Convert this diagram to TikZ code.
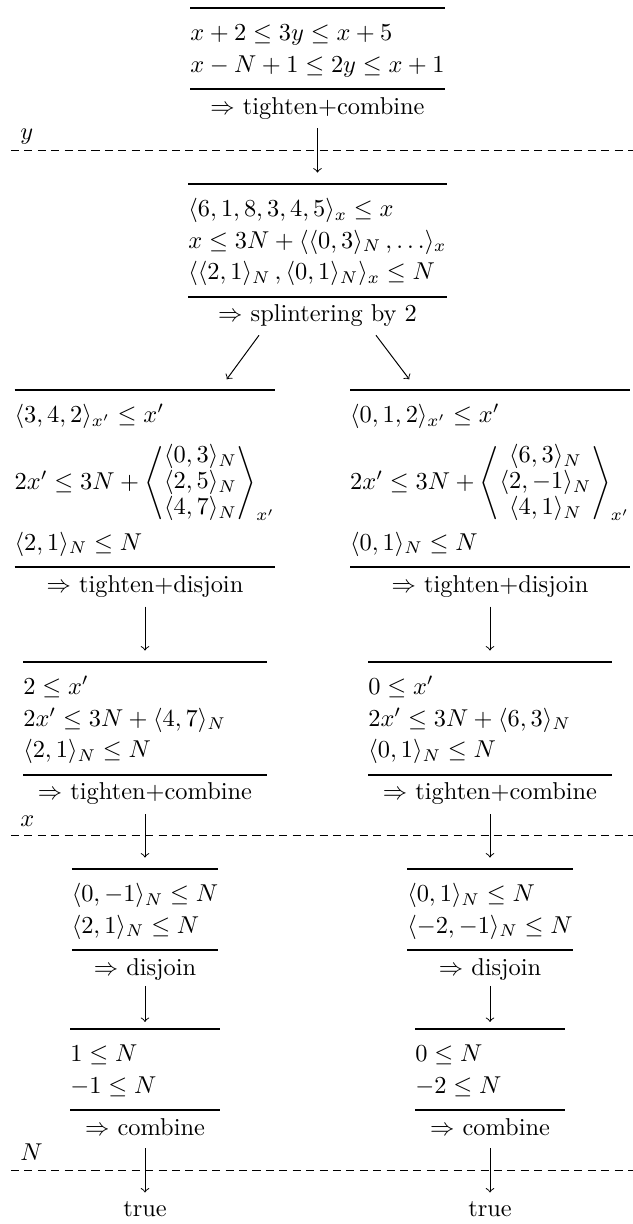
\documentclass[tikz,border=0pt]{standalone}
\usetikzlibrary{calc}
\newcommand\infblock[2]{{\def\arraystretch{1.0833}\setlength\arrayrulewidth{0.8pt}%
\begin{tabular}{@{}l@{}}\hline
\rule{0pt}{12.9pt}#1\rule[-6.6pt]{0pt}{0pt}\\\hline
\multicolumn{1}{c}{\rule{0pt}{9.8pt}$\Rightarrow$ #2}
\end{tabular}}}
\newcommand\trio[3]{{\def\arraystretch{0.86}\begin{array}{@{}c@{}}#1\\#2\\#3\end{array}}}
\newcommand\bigrow[1]{\rule{0pt}{23.5pt}#1\rule[-15.9pt]{0pt}{0pt}}
\tikzset{
  blk/.style={inner sep=0pt, outer sep=0pt, anchor=north},
  flow/.style={->, line width=0.4pt, shorten <=2pt, shorten >=4.3pt},
  sepline/.style={line width=0.4pt, dash pattern=on 3.3pt off 2.2pt},
  lbl/.style={anchor=base west, inner sep=0pt},
  res/.style={anchor=base, inner sep=0pt}
}
\begin{document}
\begin{tikzpicture}[x=0.41pt,y=-0.41pt]
\useasboundingbox (0,0) rectangle (633,1224);

% level y
\node[blk] (b1) at (317.5,7) {\infblock{$x+2\le 3y\le x+5$\\$x-N+1\le 2y\le x+1$}{tighten+combine}};

\node[blk] (b2) at (317.5,183) {\infblock{$\langle 6,1,8,3,4,5\rangle_x\le x$\\$x\le 3N+\langle\langle 0,3\rangle_N\,,\ldots\rangle_x$\\$\langle\langle 2,1\rangle_N\,,\langle 0,1\rangle_N\rangle_x\le N$}{splintering by 2}};

\node[blk] (b3l) at (145,389) {\infblock{$\langle 3,4,2\rangle_{x'}\le x'$\\\bigrow{$2x'\le 3N+\Biggl\langle\trio{\langle 0,3\rangle_N}{\langle 2,5\rangle_N}{\langle 4,7\rangle_N}\Biggr\rangle_{x'}$}\\$\langle 2,1\rangle_N\le N$}{tighten+disjoin}};

\node[blk] (b3r) at (490,389) {\infblock{$\langle 0,1,2\rangle_{x'}\le x'$\\\bigrow{$2x'\le 3N+\Biggl\langle\trio{\langle 6,3\rangle_N}{\langle 2,-1\rangle_N}{\langle 4,1\rangle_N}\Biggr\rangle_{x'}$}\\$\langle 0,1\rangle_N\le N$}{tighten+disjoin}};

\node[blk] (b4l) at (145,661) {\infblock{$2\le x'$\\$2x'\le 3N+\langle 4,7\rangle_N$\\$\langle 2,1\rangle_N\le N$}{tighten+combine}};

\node[blk] (b4r) at (490,661) {\infblock{$0\le x'$\\$2x'\le 3N+\langle 6,3\rangle_N$\\$\langle 0,1\rangle_N\le N$}{tighten+combine}};

\node[blk] (b5l) at (145,868) {\infblock{$\langle 0,-1\rangle_N\le N$\\$\langle 2,1\rangle_N\le N$}{disjoin}};

\node[blk] (b5r) at (490,868) {\infblock{$\langle 0,1\rangle_N\le N$\\$\langle -2,-1\rangle_N\le N$}{disjoin}};

\node[blk] (b6l) at (145,1028) {\infblock{$1\le N$\\$-1\le N$}{combine}};

\node[blk] (b6r) at (490,1028) {\infblock{$0\le N$\\$-2\le N$}{combine}};

\node[res] (tl) at (145,1216) {true};
\node[res] (tr) at (490,1216) {true};

% variable levels
\node[lbl] (ly) at (20,139) {$y$};
\node[lbl] (lx) at (20,826) {$x$};
\node[lbl] (lN) at (20,1160) {$N$};
\draw[sepline] (11,150) -- (633,150);
\draw[sepline] (11,835.5) -- (633,835.5);
\draw[sepline] (11,1170) -- (633,1170);

% connectors
\draw[flow] (b1.south) -- (b2.north);
\draw[->, line width=0.4pt] ($(b2.south)+(-58.5,4)$) -- ($(b3l.north)+(81.7,-9.7)$);
\draw[->, line width=0.4pt] ($(b2.south)+(58.5,4)$) -- ($(b3r.north)+(-80.7,-9.7)$);
\draw[flow] (b3l.south) -- (b4l.north);
\draw[flow] (b3r.south) -- (b4r.north);
\draw[flow] (b4l.south) -- (b5l.north);
\draw[flow] (b4r.south) -- (b5r.north);
\draw[flow, shorten <=0.5pt, shorten >=2.5pt] (b5l.south) -- (b6l.north);
\draw[flow, shorten <=0.5pt, shorten >=2.5pt] (b5r.south) -- (b6r.north);
\draw[flow, shorten <=1.6pt, shorten >=3.3pt] (b6l.south) -- (tl.north);
\draw[flow, shorten <=1.6pt, shorten >=3.3pt] (b6r.south) -- (tr.north);
\end{tikzpicture}
\end{document}
